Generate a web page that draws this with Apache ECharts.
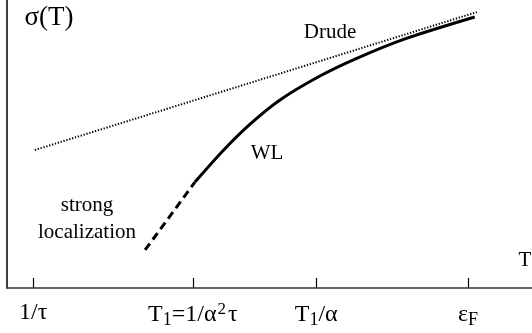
<!DOCTYPE html>
<html>
<head>
<meta charset="utf-8">
<script src="https://cdn.jsdelivr.net/npm/echarts@6/dist/echarts.min.js"></script>
<style>html,body{margin:0;padding:0;background:#fff}#c{width:532px;height:333px}</style>
</head>
<body>
<div id="c"></div>
<script>
// x positions in arbitrary (log-like) temperature units, y in arbitrary conductivity units
var tickValues = [5.0, 35.4, 58.9, 87.8];
var tickLabels = ['1/τ', 'T{sub|1}=1/α{sup|2}τ', 'T{sub|1}/α', 'ε{sub|F}'];

var drudeX = [5.3, 89.5];
var drudeY = [47.9, 95.8];

var wlX = [35.8, 41.1, 46.3, 52.0, 59.6, 66.3, 75.8, 89.1];
var wlY = [36.8, 47.6, 56.9, 65.3, 73.6, 79.5, 86.5, 94.1];

var locX = [26.3, 35.8];
var locY = [13.2, 36.8];

function pairs(xs, ys) { return xs.map(function (x, i) { return [x, ys[i]]; }); }

var FONT = '"Liberation Serif", "DejaVu Serif", serif';
var chart = echarts.init(document.getElementById('c'), null, { renderer: 'canvas' });
chart.setOption({
  animation: false,
  backgroundColor: '#fff',
  grid: { left: 7, right: 0, top: 0, bottom: 45 },
  xAxis: {
    type: 'value', min: 0, max: 100,
    splitLine: { show: false },
    axisLine: { show: true, lineStyle: { color: '#333', width: 1.5 } },
    axisTick: { show: true, inside: true, length: 10, customValues: tickValues, lineStyle: { color: '#000', width: 1.2 } },
    axisLabel: {
      show: true, customValues: tickValues, margin: 13,
      fontFamily: FONT, fontSize: 24, color: '#000',
      formatter: function (v) {
        for (var i = 0; i < tickValues.length; i++) if (Math.abs(v - tickValues[i]) < 1e-6) return tickLabels[i];
        return '';
      },
      rich: {
        sub: { fontFamily: FONT, fontSize: 18, color: '#000', verticalAlign: 'bottom', padding: [10, 0, 0, 0] },
        sup: { fontFamily: FONT, fontSize: 17, color: '#000', verticalAlign: 'top', padding: [0, 2, 8, 1] }
      }
    }
  },
  yAxis: {
    type: 'value', min: 0, max: 100,
    splitLine: { show: false },
    axisLine: { show: true, lineStyle: { color: '#000', width: 1.5 } },
    axisTick: { show: false },
    axisLabel: { show: false }
  },
  series: [
    { type: 'line', data: pairs(drudeX, drudeY), symbol: 'none',
      lineStyle: { color: '#000', width: 2, type: [1.3, 1.7] } },
    { type: 'line', data: pairs(wlX, wlY), symbol: 'none', smooth: 0.3,
      lineStyle: { color: '#000', width: 3 } },
    { type: 'line', data: pairs(locX, locY), symbol: 'none',
      lineStyle: { color: '#000', width: 3, type: [8, 5] } }
  ],
  graphic: [
    { type: 'text', x: 49, y: 18, style: { text: 'σ(T)', font: '27px ' + FONT, fill: '#000', textAlign: 'center', textVerticalAlign: 'middle' } },
    { type: 'text', x: 330, y: 32, style: { text: 'Drude', font: '21px ' + FONT, fill: '#000', textAlign: 'center', textVerticalAlign: 'middle' } },
    { type: 'text', x: 267, y: 153, style: { text: 'WL', font: '21px ' + FONT, fill: '#000', textAlign: 'center', textVerticalAlign: 'middle' } },
    { type: 'text', x: 87, y: 205, style: { text: 'strong', font: '21px ' + FONT, fill: '#000', textAlign: 'center', textVerticalAlign: 'middle' } },
    { type: 'text', x: 87, y: 232, style: { text: 'localization', font: '21px ' + FONT, fill: '#000', textAlign: 'center', textVerticalAlign: 'middle' } },
    { type: 'text', x: 525, y: 260, style: { text: 'T', font: '21px ' + FONT, fill: '#000', textAlign: 'center', textVerticalAlign: 'middle' } }
  ]
});
</script>
</body>
</html>
